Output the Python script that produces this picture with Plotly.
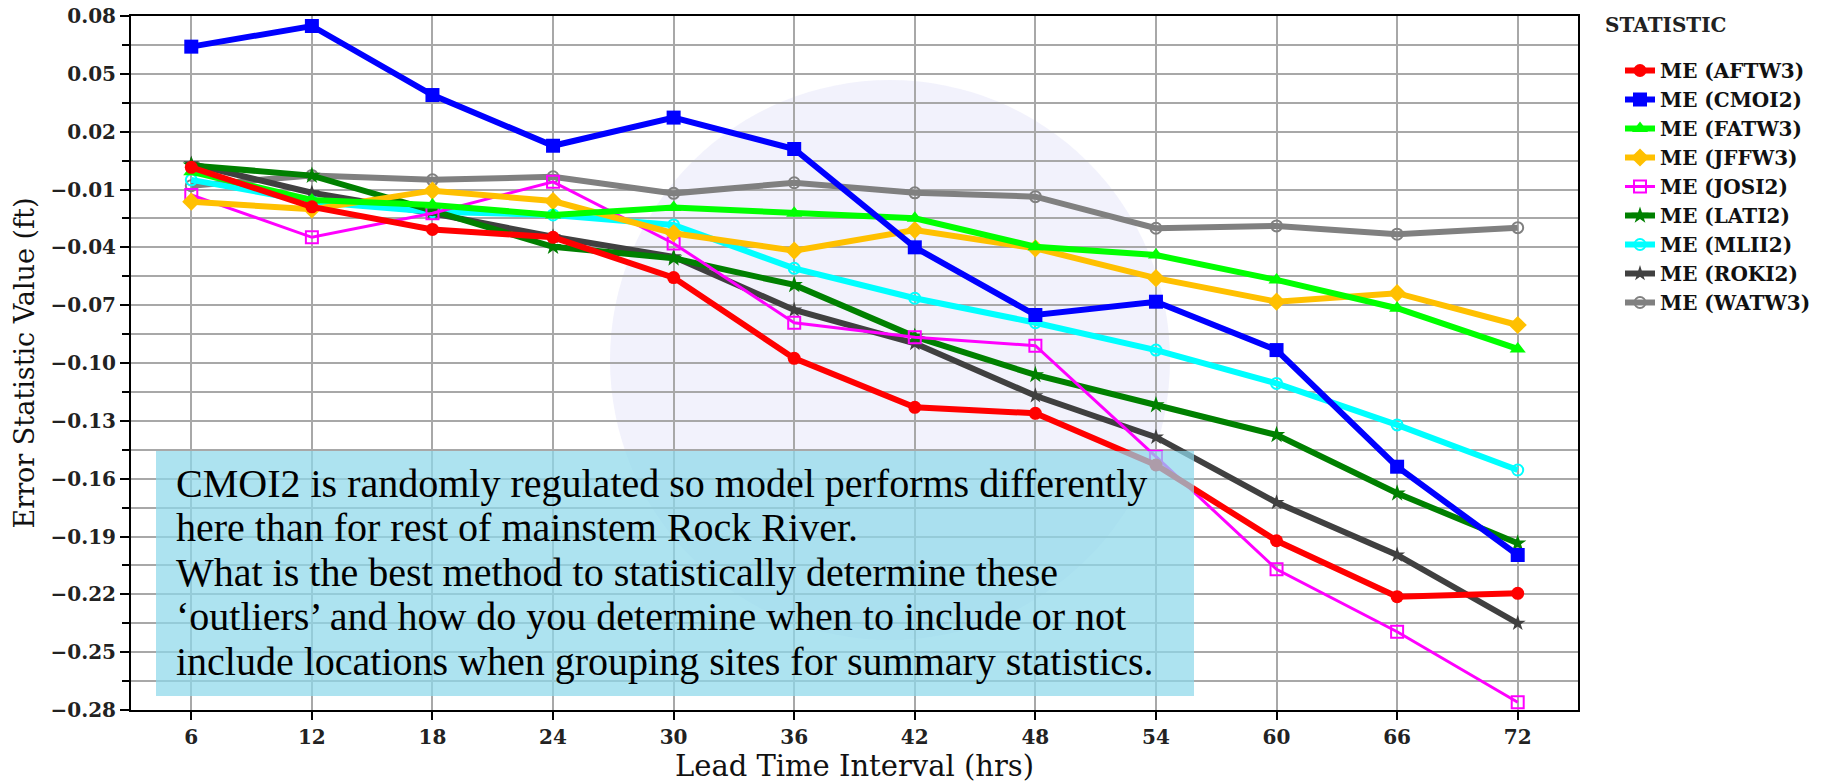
import plotly.graph_objects as go

# ---------------- data ----------------
lead_hours = [6, 12, 18, 24, 30, 36, 42, 48, 54, 60, 66, 72]
x_ticks = [6, 12, 18, 24, 30, 36, 42, 48, 54, 60, 66, 72]

me_aftw3 = [0.0015, -0.019, -0.0307, -0.0348, -0.0557, -0.0976, -0.123, -0.1261, -0.1529, -0.1922, -0.2212, -0.2195]
me_cmoi2 = [0.0641, 0.0748, 0.039, 0.0127, 0.0273, 0.011, -0.040, -0.0751, -0.0682, -0.0933, -0.1538, -0.1996]
me_fatw3 = [-0.0008, -0.0154, -0.018, -0.0232, -0.0194, -0.0223, -0.0249, -0.0397, -0.044, -0.0569, -0.0716, -0.0927]
me_jffw3 = [-0.0163, -0.0203, -0.0106, -0.016, -0.0327, -0.0417, -0.031, -0.0405, -0.056, -0.0682, -0.0638, -0.0803]
me_josi2 = [-0.0128, -0.0348, -0.0223, -0.006, -0.038, -0.0791, -0.0867, -0.091, -0.1486, -0.207, -0.2394, -0.276]
me_lati2 = [0.0025, -0.0028, -0.021, -0.0397, -0.0457, -0.0595, -0.0863, -0.1062, -0.1218, -0.1373, -0.1676, -0.1935]
me_mlii2 = [-0.005, -0.0163, -0.0215, -0.0232, -0.0284, -0.0509, -0.0664, -0.0791, -0.0933, -0.1106, -0.1321, -0.1555]
me_roki2 = [0.0033, -0.0117, -0.0223, -0.0345, -0.0449, -0.0725, -0.0898, -0.117, -0.1385, -0.1724, -0.1996, -0.235]
me_watw3 = [-0.008, -0.0027, -0.005, -0.0034, -0.012, -0.0065, -0.0117, -0.0137, -0.0301, -0.0289, -0.0332, -0.0298]

series_names = ["ME (AFTW3)", "ME (CMOI2)", "ME (FATW3)", "ME (JFFW3)", "ME (JOSI2)",
                "ME (LATI2)", "ME (MLII2)", "ME (ROKI2)", "ME (WATW3)"]
series_values = [me_aftw3, me_cmoi2, me_fatw3, me_jffw3, me_josi2,
                 me_lati2, me_mlii2, me_roki2, me_watw3]

note_lines = [
    "CMOI2 is randomly regulated so model performs differently",
    "here than for rest of mainstem Rock River.",
    "What is the best method to statistically determine these",
    "\u2018outliers\u2019 and how do you determine when to include or not",
    "include locations when grouping sites for summary statistics.",
]

# ---------------- styles ----------------
styles = [
    dict(color="#ff0000", symbol="circle", size=13, width=6, lw=0),
    dict(color="#0000ff", symbol="square", size=14, width=6, lw=0),
    dict(color="#00ff00", symbol="triangle-up", size=14, width=6, lw=0),
    dict(color="#ffc000", symbol="diamond", size=14, width=6, lw=0),
    dict(color="#ff00ff", symbol="square-open", size=12, width=3, lw=2),
    dict(color="#008000", symbol="star", size=13, width=6, lw=0),
    dict(color="#00ffff", symbol="circle-open", size=11, width=6, lw=2),
    dict(color="#404040", symbol="star", size=12, width=6, lw=0),
    dict(color="#808080", symbol="circle-open", size=11, width=6, lw=2),
]

W, H = 1835, 783
ML, MR, MT, MB = 131, 257, 16, 73
PW = W - ML - MR
PH = H - MT - MB


def px_x(p):
    return (p - ML) / PW


def px_y(p):
    return 1 - (p - MT) / PH


fig = go.Figure()

# add in reverse so AFTW3 is drawn on top; legend reversed to keep order
for name, vals, st in reversed(list(zip(series_names, series_values, styles))):
    fig.add_trace(go.Scatter(
        x=lead_hours, y=vals, name=name, mode="lines+markers",
        line=dict(color=st["color"], width=st["width"]),
        marker=dict(symbol=st["symbol"], size=st["size"], color=st["color"],
                    line=dict(color=st["color"], width=st["lw"])),
    ))

tick_font = dict(family="DejaVu Serif", size=20, color="#222222", weight="bold")

fig.update_layout(
    width=W, height=H,
    margin=dict(l=ML, r=MR, t=MT, b=MB),
    paper_bgcolor="white", plot_bgcolor="white",
    showlegend=True,
    legend=dict(
        x=px_x(1620), y=px_y(51), xanchor="left", yanchor="top",
        traceorder="reversed",
        font=dict(family="DejaVu Serif", size=20, color="#111", weight="bold"),
        bgcolor="rgba(0,0,0,0)",
    ),
    xaxis=dict(
        range=[3, 75], tickmode="array", tickvals=x_ticks,
        ticktext=[str(v) for v in x_ticks], automargin=False,
        showgrid=True, gridcolor="#a8a8a8", gridwidth=2,
        showline=True, linecolor="black", linewidth=2, mirror=True,
        ticks="outside", ticklen=8, tickwidth=2, tickcolor="black",
        tickfont=tick_font, zeroline=False,
        title=dict(text="Lead Time Interval (hrs)", standoff=11,
                   font=dict(family="DejaVu Serif", size=29, color="#111")),
    ),
    yaxis=dict(
        range=[-0.28, 0.08], tick0=-0.28, dtick=0.03, tickformat=".2f",
        automargin=False,
        showgrid=True, gridcolor="#a8a8a8", gridwidth=2,
        minor=dict(dtick=0.015, tick0=-0.28, showgrid=True, gridcolor="#a8a8a8", gridwidth=2,
                   ticks="outside", ticklen=7, tickwidth=2, tickcolor="black"),
        showline=True, linecolor="black", linewidth=2, mirror=True,
        ticks="outside", ticklen=9, tickwidth=2, tickcolor="black",
        tickfont=tick_font, zeroline=False,
        title=dict(text="Error Statistic Value (ft)", standoff=8,
                   font=dict(family="DejaVu Serif", size=27, color="#111")),
    ),
)

# legend heading
fig.add_annotation(xref="paper", yref="paper", x=px_x(1603), y=px_y(25),
                   xanchor="left", yanchor="middle", showarrow=False,
                   text="STATISTIC",
                   font=dict(family="DejaVu Serif", size=20, color="#222", weight="bold"))

# faint watermark disc behind the data
fig.add_shape(type="circle", xref="paper", yref="paper", layer="below",
              x0=px_x(610), x1=px_x(1170), y0=px_y(640), y1=px_y(80),
              fillcolor="rgba(232,232,250,0.55)", line=dict(width=0))

# annotation box
fig.add_shape(type="rect", xref="paper", yref="paper", layer="above",
              x0=px_x(156), x1=px_x(1194), y0=px_y(696), y1=px_y(451),
              fillcolor="rgba(141,216,234,0.72)", line=dict(width=0))

baseline0 = 495
for i, line in enumerate(note_lines):
    base = baseline0 + i * 44.5
    fig.add_annotation(
        xref="paper", yref="paper", x=px_x(174), y=px_y(base - 12),
        xanchor="left", yanchor="middle", showarrow=False, align="left",
        text=line, font=dict(family="Liberation Serif", size=40, color="black"),
    )

fig.write_html("out.html")
